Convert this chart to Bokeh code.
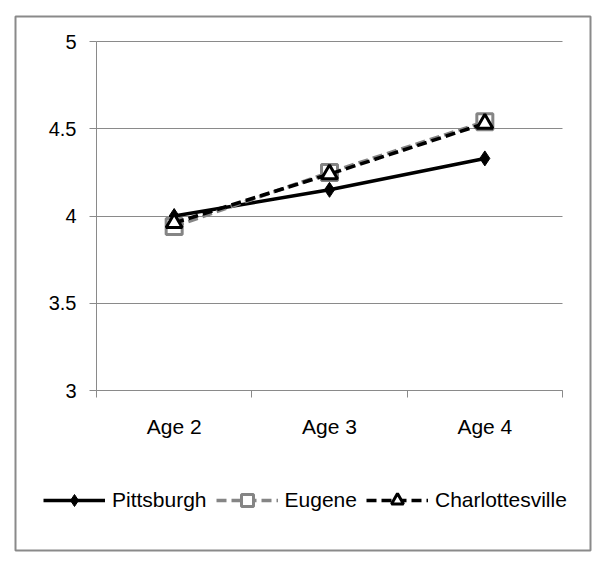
from bokeh.plotting import figure
from bokeh.models import Range1d, FixedTicker, Legend
from bokeh.embed import file_html
from bokeh.resources import INLINE

categories = ["Age 2", "Age 3", "Age 4"]
pittsburgh = [4.00, 4.15, 4.33]
eugene = [3.94, 4.25, 4.54]
charlottesville = [3.96, 4.24, 4.53]
y_ticks = [3, 3.5, 4, 4.5, 5]
y_tick_labels = ["3", "3.5", "4", "4.5", "5"]
series_names = ["Pittsburgh", "Eugene", "Charlottesville"]

FONT = "Liberation Sans"
GRAY = "#8a8a8a"

# layout (canvas pixels): chart box and inner plot area
W, H = 592, 552
BOX_L, BOX_T, BOX_R, BOX_B = 15, 16, 590, 550
PA_L, PA_R, PA_T, PA_B = 96, 562, 41, 390

n = len(categories)
xs = [i + 0.5 for i in range(n)]
y0, y1 = y_ticks[0], y_ticks[-1]
sx = (PA_R - PA_L) / n
sy = (PA_B - PA_T) / (y1 - y0)
x_range = Range1d(-(PA_L - BOX_L) / sx, n + (BOX_R - PA_R) / sx)
y_range = Range1d(y0 - (BOX_B - PA_B) / sy, y1 + (PA_T - BOX_T) / sy)

p = figure(width=W, height=H, output_backend="svg", toolbar_location=None,
           x_range=x_range, y_range=y_range,
           min_border_left=BOX_L, min_border_right=W - BOX_R, min_border_top=BOX_T,
           min_border_bottom=H - BOX_B)
p.outline_line_color = GRAY
p.outline_line_width = 2
p.background_fill_color = "white"
p.border_fill_color = "white"

p.xaxis.fixed_location = y0
p.xaxis.bounds = (0, n)
p.xaxis.ticker = FixedTicker(ticks=xs, minor_ticks=list(range(n + 1)))
p.xaxis.major_label_overrides = {x: c for x, c in zip(xs, categories)}
p.xaxis.major_tick_out = 0
p.xaxis.major_tick_in = 0
p.xaxis.minor_tick_out = 7
p.xaxis.minor_tick_in = 0
p.xaxis.minor_tick_line_color = GRAY
p.xaxis.axis_line_color = GRAY
p.xaxis.major_label_standoff = 17
p.xaxis.major_label_text_font = FONT
p.xaxis.major_label_text_font_size = "21px"
p.xaxis.major_label_text_color = "black"
p.xgrid.visible = False

p.yaxis.fixed_location = 0
p.yaxis.bounds = (y0, y1)
p.yaxis.ticker = FixedTicker(ticks=y_ticks, minor_ticks=[])
p.yaxis.major_label_overrides = {t: l for t, l in zip(y_ticks, y_tick_labels)}
p.yaxis.major_tick_out = 7
p.yaxis.major_tick_in = 0
p.yaxis.major_tick_line_color = GRAY
p.yaxis.axis_line_color = GRAY
p.yaxis.major_label_standoff = 13
p.yaxis.major_label_text_font = FONT
p.yaxis.major_label_text_font_size = "20px"
p.yaxis.major_label_text_color = "black"
p.ygrid.ticker = FixedTicker(ticks=y_ticks)
p.ygrid.cross_bounds = (0, n)
p.ygrid.grid_line_color = GRAY
p.ygrid.grid_line_width = 1

styles = [
    dict(line_color="black", line_dash="solid", marker="diamond", size=15, fill_color="black", mline=1),
    dict(line_color="#858585", line_dash="10 5", marker="square", size=16, fill_color="white", mline=3),
    dict(line_color="black", line_dash="10 5", marker="triangle", size=16, fill_color="white", mline=3),
]

items = []
for name, vals, st in zip(series_names, [pittsburgh, eugene, charlottesville], styles):
    rl = p.line(xs, vals, line_color=st["line_color"], line_width=3.5, line_dash=st["line_dash"])
    rm = p.scatter(xs, vals, marker=st["marker"], size=st["size"], fill_color=st["fill_color"],
                   line_color=st["line_color"], line_width=st["mline"])
    items.append((name, [rl, rm]))

legend = Legend(items=items, orientation="horizontal", location=(43 - BOX_L, BOX_B - 515))
legend.padding = 0
legend.margin = 0
legend.spacing = 9
legend.glyph_width = 62
legend.glyph_height = 30
legend.label_standoff = 7
legend.label_text_font = FONT
legend.label_text_font_size = "21px"
legend.label_text_color = "black"
legend.border_line_color = None
legend.background_fill_alpha = 0
p.add_layout(legend, "center")

open("out.html", "w").write(file_html(p, INLINE))
